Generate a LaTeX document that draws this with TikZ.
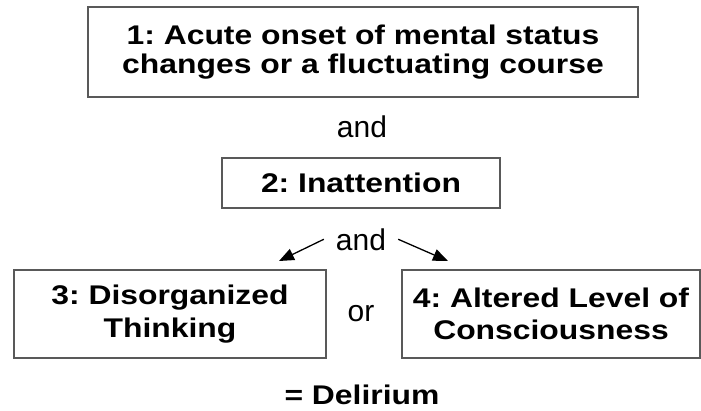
\documentclass[tikz,border=0pt]{standalone}
\usepackage{fontspec}
\setmainfont{Liberation Sans}
\newfontfamily\critfont[FakeStretch=1.18]{Liberation Sans}
\usetikzlibrary{arrows.meta,positioning}
\frenchspacing

\begin{document}
\begin{tikzpicture}[
        x=1pt, y=1pt,
        crit/.style={rectangle, draw=black!65, line width=1.2pt, align=center, inner sep=0pt,
                     font=\critfont\bfseries\fontsize{27}{29.5}\selectfont},
        joint/.style={inner sep=0pt, font=\fontsize{30}{34}\selectfont},
        arrow/.style={-{Triangle[length=15pt, width=12pt]}, line width=1.3pt}
    ]
    \useasboundingbox (0,0) rectangle (701,-410);

    \node[crit, minimum width=550pt, minimum height=90pt] (onset) at (363,-52) {1: Acute onset of mental status\\changes or a fluctuating course};
    \node[crit, minimum width=278pt, minimum height=50pt] (inatt) at (361,-183) {2: Inattention};
    \node[crit, minimum width=312pt, minimum height=88pt] (disorg) at (170,-314) {3: Disorganized\\[3pt]Thinking};
    \node[crit, minimum width=298pt, minimum height=88pt] (loc) at (551,-314) {4: Altered Level of\\[3pt]Consciousness};

    \node[joint, anchor=base] (and1) at (362,-137) {and};
    \node[joint, anchor=base, inner xsep=12pt] (and2) at (361,-250) {and};
    \node[joint] (or) at (361,-314) {or};
    \node[crit, draw=none, anchor=base] (delirium) at (362,-404) {= Delirium};

    \coordinate (tipL) at (279,-261);
    \coordinate (tipR) at (448,-261);
    \draw[arrow] (and2.west) -- (tipL);
    \draw[arrow] (and2.east) -- (tipR);
\end{tikzpicture}
\end{document}
